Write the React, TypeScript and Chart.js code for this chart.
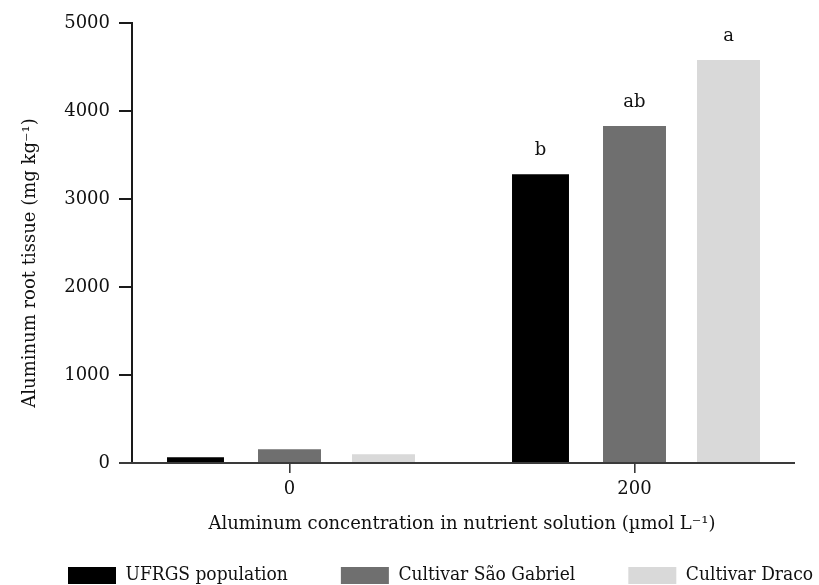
import React, { useEffect, useRef } from 'react';
import { Chart, registerables } from 'chart.js';

Chart.register(...registerables);

const categories = ['0', '200'];
const seriesNames = ['UFRGS population', 'Cultivar São Gabriel', 'Cultivar Draco'];
const ufrgsValues = [65, 3280];
const saoGabrielValues = [156, 3830];
const dracoValues = [99, 4580];
const ufrgsLetters = ['', 'b'];
const saoGabrielLetters = ['', 'ab'];
const dracoLetters = ['', 'a'];
const seriesColors = ['#000000', '#6f6f6f', '#d9d9d9'];
const yMin = 0;
const yMax = 5000;
const yStep = 1000;
const xTitle = 'Aluminum concentration in nutrient solution (µmol L⁻¹)';
const yTitle = 'Aluminum root tissue (mg kg⁻¹)';

const SERIF = '"DejaVu Serif", serif';
const LEGEND_FONT = '"DejaVu Serif Condensed", "DejaVu Serif", serif';

const letters = [ufrgsLetters, saoGabrielLetters, dracoLetters];

const axesPlugin = {
  id: 'axesPlugin',
  afterDatasetsDraw(chart: any) {
    const { ctx, chartArea, scales } = chart;
    const y = scales.y;
    const axisX = chartArea.left + 15;
    const y0 = y.getPixelForValue(yMin);
    const yTop = y.getPixelForValue(yMax);
    ctx.save();
    // y axis line and ticks
    ctx.strokeStyle = '#1a1a1a';
    ctx.lineWidth = 2;
    ctx.beginPath();
    ctx.moveTo(axisX, yTop - 1);
    ctx.lineTo(axisX, y0);
    y.ticks.forEach((t: any) => {
      const py = y.getPixelForValue(t.value);
      ctx.moveTo(chartArea.left + 2, py);
      ctx.lineTo(axisX, py);
    });
    ctx.stroke();
    // x axis line
    ctx.strokeStyle = '#3a3a3a';
    ctx.lineWidth = 2;
    ctx.beginPath();
    ctx.moveTo(chartArea.left + 2, y0);
    ctx.lineTo(chartArea.right - 12, y0);
    ctx.stroke();
    // significance letters
    ctx.fillStyle = '#111111';
    ctx.font = `18px ${SERIF}`;
    ctx.textAlign = 'center';
    ctx.textBaseline = 'middle';
    chart.data.datasets.forEach((_: any, i: number) => {
      const meta = chart.getDatasetMeta(i);
      meta.data.forEach((el: any, j: number) => {
        const txt = letters[i][j];
        if (txt) ctx.fillText(txt, el.x, el.y - 24);
      });
    });
    // y axis title
    ctx.save();
    ctx.translate(30, (yTop + y0) / 2 + 20);
    ctx.rotate(-Math.PI / 2);
    ctx.fillText(yTitle, 0, 0);
    ctx.restore();
    ctx.restore();
  },
};

export default function App() {
  const ref = useRef<HTMLCanvasElement | null>(null);
  useEffect(() => {
    if (!ref.current) return;
    const chart = new Chart(ref.current, {
      type: 'bar',
      data: {
        labels: categories,
        datasets: [
          { label: seriesNames[0], data: ufrgsValues, backgroundColor: seriesColors[0], barPercentage: 0.606, categoryPercentage: 0.8174 },
          { label: seriesNames[1], data: saoGabrielValues, backgroundColor: seriesColors[1], barPercentage: 0.67, categoryPercentage: 0.8174 },
          { label: seriesNames[2], data: dracoValues, backgroundColor: seriesColors[2], barPercentage: 0.67, categoryPercentage: 0.8174 },
        ],
      },
      options: {
        animation: false,
        responsive: true,
        maintainAspectRatio: false,
        layout: { padding: { top: 23, right: -50, left: 15, bottom: -10 } },
        plugins: {
          tooltip: { enabled: false },
          legend: {
            position: 'bottom',
            align: 'start',
            labels: {
              boxWidth: 48,
              boxHeight: 17,
              padding: 53,
              color: '#111111',
              font: { family: LEGEND_FONT, size: 19 },
            },
          },
        },
        scales: {
          x: {
            offset: true,
            grid: { display: true, drawOnChartArea: false, drawTicks: true, tickLength: 10, offset: false, color: '#3a3a3a', lineWidth: 1.6 },
            border: { display: false },
            ticks: { color: '#111111', padding: 6, font: { family: SERIF, size: 18 } },
            title: { display: true, text: xTitle, color: '#111111', padding: { top: 0, bottom: -21.8 }, font: { family: SERIF, size: 18 } },
            afterFit: (s: any) => { s.height = 50; },
          },
          y: {
            min: yMin,
            max: yMax,
            ticks: { stepSize: yStep, color: '#111111', padding: 7, font: { family: SERIF, size: 18 }, callback: (v: any) => String(v) },
            grid: { display: false, drawTicks: false },
            border: { display: false },
            title: { display: false },
            afterFit: (s: any) => { s.width = 102; },
          },
          spacer: {
            type: 'linear',
            axis: 'y',
            position: 'right',
            min: 0,
            max: 1,
            ticks: { display: false },
            grid: { display: false, drawTicks: false },
            border: { display: false },
            afterFit: (s: any) => { s.width = 62; },
          },
        },
      },
      plugins: [axesPlugin],
    });
    return () => chart.destroy();
  }, []);
  return (
    <div style={{ position: 'fixed', left: 0, top: 0, width: 819, height: 585, background: '#ffffff' }}>
      <canvas ref={ref} />
    </div>
  );
}
